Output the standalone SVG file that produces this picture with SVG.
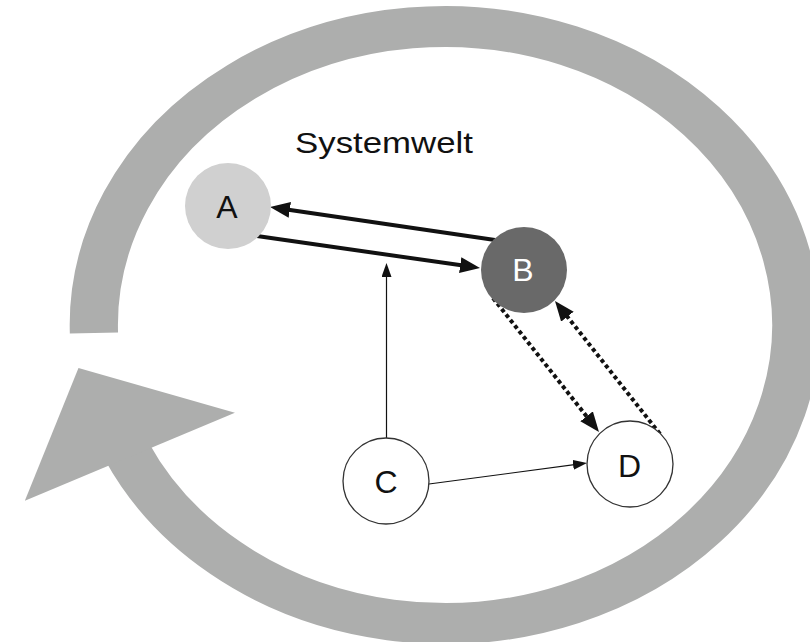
<svg xmlns="http://www.w3.org/2000/svg" width="810" height="642" viewBox="0 0 810 642">
  <style>
    .ring { fill: none; stroke: #adaead; stroke-width: 41; stroke-linecap: butt; }
    .ring-head { fill: #adaead; }
    .lbl { font-family: "Liberation Sans", Arial, sans-serif; font-size: 32px; text-anchor: middle; }
    .title { font-family: "Liberation Sans", Arial, sans-serif; font-size: 30px; fill: #111; }
    .thick { fill: none; stroke: #111; stroke-width: 4; }
    .thin { fill: none; stroke: #111; stroke-width: 1.2; }
    .dotted { fill: none; stroke: #111; stroke-width: 4; stroke-dasharray: 4 3; }
    .open-node { fill: #fff; stroke: #333; stroke-width: 1.3; }
  </style>
  <defs>
    <marker id="head-big" markerUnits="userSpaceOnUse" markerWidth="22" markerHeight="18" refX="10" refY="8" orient="auto">
      <path d="M0,0 L20,8 L0,16 z" fill="#111"/>
    </marker>
    <marker id="head-small" markerUnits="userSpaceOnUse" markerWidth="16" markerHeight="12" refX="7" refY="5" orient="auto">
      <path d="M0,0 L14,5 L0,10 z" fill="#111"/>
    </marker>
  </defs>

  <rect width="810" height="642" fill="#fff"/>

  <!-- circular process arrow around the system world -->
  <g id="cycle" transform="translate(445 325) scale(1.1765 1)">
    <path class="ring" d="M -298.39 8.02 A 298.5 298.5 0 1 1 -270.53 126.15"/>
    <polygon class="ring-head" points="-357.11,175.72 -178.55,87.86 -311.54,42.96"/>
  </g>

  <text id="title" class="title" x="295" y="153" textLength="178" lengthAdjust="spacingAndGlyphs">Systemwelt</text>

  <!-- connectors -->
  <g id="connectors">
    <line id="b-a" class="thick" x1="495" y1="240" x2="279.9" y2="208.45" marker-end="url(#head-big)"/>
    <line id="a-b" class="thick" x1="257" y1="236" x2="470.1" y2="266.6" marker-end="url(#head-big)"/>
    <line id="c-ab" class="thin" x1="386.5" y1="438" x2="386.5" y2="270" marker-end="url(#head-small)"/>
    <line id="c-d" class="thin" x1="429" y1="484" x2="580.06" y2="463.92" marker-end="url(#head-small)"/>
    <line id="b-d" class="dotted" x1="493" y1="298" x2="592.8" y2="424.16" marker-end="url(#head-big)"/>
    <line id="d-b" class="dotted" x1="660" y1="434" x2="561.2" y2="308.85" marker-end="url(#head-big)"/>
  </g>

  <g id="node-a">
    <circle cx="228" cy="206" r="43" fill="#d0d0d0"/>
    <text class="lbl" x="227" y="218" fill="#111">A</text>
  </g>
  <g id="node-b">
    <circle cx="524" cy="270" r="43" fill="#696969"/>
    <text class="lbl" x="523" y="281" fill="#fff">B</text>
  </g>
  <g id="node-c">
    <circle class="open-node" cx="386" cy="481" r="43"/>
    <text class="lbl" x="386" y="493" fill="#111">C</text>
  </g>
  <g id="node-d">
    <circle class="open-node" cx="630" cy="464" r="43"/>
    <text class="lbl" x="629.5" y="477" fill="#111">D</text>
  </g>
</svg>
